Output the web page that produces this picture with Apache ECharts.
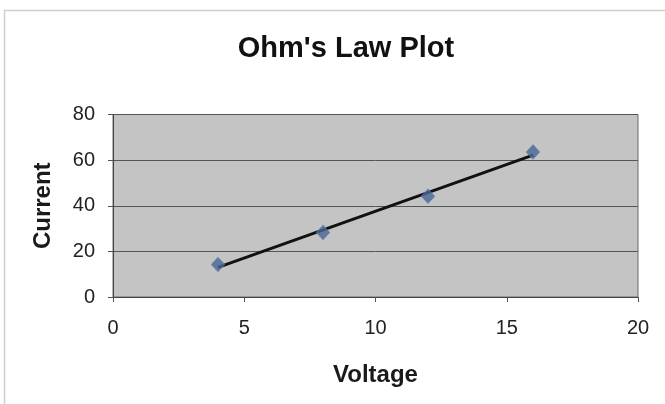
<!DOCTYPE html>
<html>
<head>
<meta charset="utf-8">
<script src="https://cdn.jsdelivr.net/npm/echarts@6/dist/echarts.min.js"></script>
<style>
  html, body { margin: 0; padding: 0; background: #ffffff; }
  #chart { width: 665px; height: 404px; }
</style>
</head>
<body>
<div id="chart"></div>
<script>
// Measured voltage (V) and current readings
const voltage = [4, 8, 12, 16];
const current = [14.2, 28.3, 44.2, 63.6];

const xTicks = { min: 0, max: 20, interval: 5 };
const yTicks = { min: 0, max: 80, interval: 20 };

// Least-squares linear trendline through the readings
function linearFit(xs, ys) {
  const n = xs.length;
  const mx = xs.reduce((a, b) => a + b, 0) / n;
  const my = ys.reduce((a, b) => a + b, 0) / n;
  let sxy = 0, sxx = 0;
  for (let i = 0; i < n; i++) {
    sxy += (xs[i] - mx) * (ys[i] - my);
    sxx += (xs[i] - mx) * (xs[i] - mx);
  }
  const slope = sxy / sxx;
  return { slope, intercept: my - slope * mx };
}
const fit = linearFit(voltage, current);
const xFirst = Math.min(...voltage);
const xLast = Math.max(...voltage);
const trend = [
  [xFirst, fit.slope * xFirst + fit.intercept],
  [xLast, fit.slope * xLast + fit.intercept]
];

const font = 'Liberation Sans, Arial, sans-serif';
const chart = echarts.init(document.getElementById('chart'), null, { renderer: 'canvas' });

chart.setOption({
  animation: false,
  backgroundColor: '#ffffff',
  title: {
    text: "Ohm's Law Plot",
    left: 341,
    textAlign: 'center',
    top: 29,
    textStyle: { fontFamily: font, fontSize: 29, fontWeight: 'bold', color: '#111' }
  },
  graphic: [{
    type: 'rect',
    shape: { x: 4.5, y: 10.5, width: 700, height: 450 },
    style: { fill: 'none', stroke: '#cfcfcf', lineWidth: 1.5 },
    silent: true
  }],
  grid: {
    left: 113, right: 27, top: 114.5, bottom: 107,
    show: true,
    backgroundColor: '#c4c4c4',
    borderColor: '#6a6a6a',
    borderWidth: 1
  },
  xAxis: {
    type: 'value',
    min: xTicks.min, max: xTicks.max, interval: xTicks.interval,
    name: 'Voltage',
    nameLocation: 'middle',
    nameGap: 66,
    nameTextStyle: { fontFamily: font, fontSize: 24, fontWeight: 'bold', color: '#1a1a1a' },
    axisLine: { show: true, lineStyle: { color: '#444', width: 1 } },
    axisTick: { show: true, inside: false, length: 5, lineStyle: { color: '#555' } },
    axisLabel: { fontFamily: font, fontSize: 20, color: '#222', margin: 21 },
    splitLine: { show: false }
  },
  yAxis: {
    type: 'value',
    min: yTicks.min, max: yTicks.max, interval: yTicks.interval,
    name: 'Current',
    nameLocation: 'middle',
    nameGap: 58,
    nameTextStyle: { fontFamily: font, fontSize: 24, fontWeight: 'bold', color: '#1a1a1a' },
    axisLine: { show: true, lineStyle: { color: '#444', width: 1 } },
    axisTick: { show: true, inside: false, length: 5, lineStyle: { color: '#555' } },
    axisLabel: { fontFamily: font, fontSize: 20, color: '#222', margin: 18 },
    splitLine: { show: true, lineStyle: { color: '#555', width: 1 } }
  },
  series: [
    {
      name: 'Trend',
      type: 'line',
      data: trend,
      symbol: 'none',
      lineStyle: { color: '#111', width: 3 },
      z: 2
    },
    {
      name: 'Current',
      type: 'scatter',
      data: voltage.map((v, i) => [v, current[i]]),
      symbol: 'diamond',
      symbolSize: [13, 14],
      itemStyle: { color: '#4a6796', borderColor: '#5a78a8', borderWidth: 1 },
      z: 3
    }
  ]
});
</script>
</body>
</html>
